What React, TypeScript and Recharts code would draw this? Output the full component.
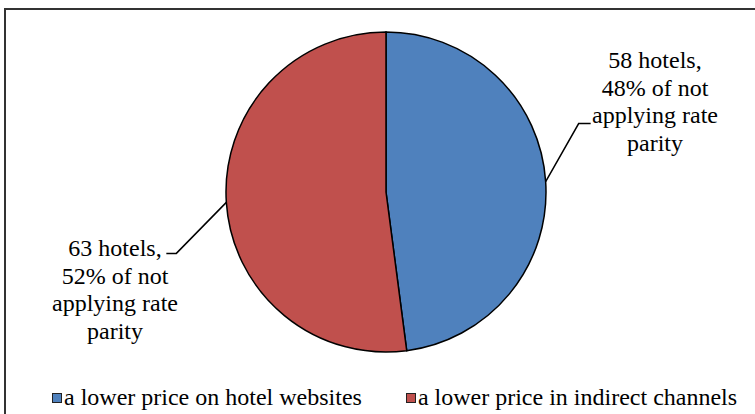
import React from 'react';
import { PieChart, Pie, Cell, Legend } from 'recharts';

const categories = ['a lower price on hotel websites', 'a lower price in indirect channels'];
const hotels = [58, 63];
const COLORS = ['#4F81BD', '#C0504D'];

const total = hotels.reduce((a, b) => a + b, 0);
const data = categories.map((name, i) => ({ name, value: hotels[i] }));

const FONT = 'Liberation Serif';
const RADIAN = Math.PI / 180;

// manual label placement, like the original (elbow point + text block centre)
const labelLayout = [
    { elbowDx: 33, elbowDy: -58, tailDx: 12, textX: 655, textY: 60 },
    { elbowDx: -50, elbowDy: 51, tailDx: -10, textX: 115, textY: 248 },
];

const renderLabel = (props: any) => {
    const { cx, cy, midAngle, outerRadius, index, value } = props;
    const lay = labelLayout[index];
    const sx = cx + outerRadius * Math.cos(-midAngle * RADIAN);
    const sy = cy + outerRadius * Math.sin(-midAngle * RADIAN);
    const ex = sx + lay.elbowDx;
    const ey = sy + lay.elbowDy;
    const tx = ex + lay.tailDx;
    const pct = Math.round((value / total) * 100);
    const lines = [`${value} hotels,`, `${pct}% of not`, 'applying rate', 'parity'];
    return (
        <g>
            <polyline points={`${sx},${sy} ${ex},${ey} ${tx},${ey}`} fill="none" stroke="#000" strokeWidth={1.5} />
            <text x={lay.textX} y={lay.textY} textAnchor="middle" fontFamily={FONT} fontSize={24} fill="#000">
                {lines.map((l, i) => (
                    <tspan key={i} x={lay.textX} dy={i === 0 ? 8 : 27.5}>{l}</tspan>
                ))}
            </text>
        </g>
    );
};

const renderLegend = () => (
    <div style={{ display: 'flex', paddingLeft: 52, fontFamily: FONT, fontSize: 24, color: '#000' }}>
        {categories.map((c, i) => (
            <div key={c} style={{ display: 'flex', alignItems: 'center', marginLeft: i ? 44 : 0 }}>
                <span style={{ display: 'inline-block', width: 8, height: 8, background: COLORS[i], border: '1px solid #222', marginRight: 2 }} />
                <span>{c}</span>
            </div>
        ))}
    </div>
);

export default function App() {
    return (
        <div style={{ position: 'relative', width: 755, height: 414, background: '#fff', overflow: 'hidden' }}>
            <style>{'body{margin:0}'}</style>
            <div style={{ position: 'absolute', left: 4, top: 8, width: 760, height: 420, border: '2px solid #333', boxSizing: 'border-box' }} />
            <PieChart width={755} height={414} margin={{ top: 0, right: 0, bottom: 0, left: 0 }}>
                <Pie
                    data={data}
                    dataKey="value"
                    cx={386}
                    cy={192}
                    outerRadius={160}
                    startAngle={90}
                    endAngle={-270}
                    stroke="#000"
                    strokeWidth={1.5}
                    label={renderLabel}
                    labelLine={false}
                    isAnimationActive={false}
                >
                    {data.map((entry, index) => (
                        <Cell key={`cell-${index}`} fill={COLORS[index]} />
                    ))}
                </Pie>
                <Legend content={renderLegend} wrapperStyle={{ top: 384, left: 0, width: 755 }} />
            </PieChart>
        </div>
    );
}
